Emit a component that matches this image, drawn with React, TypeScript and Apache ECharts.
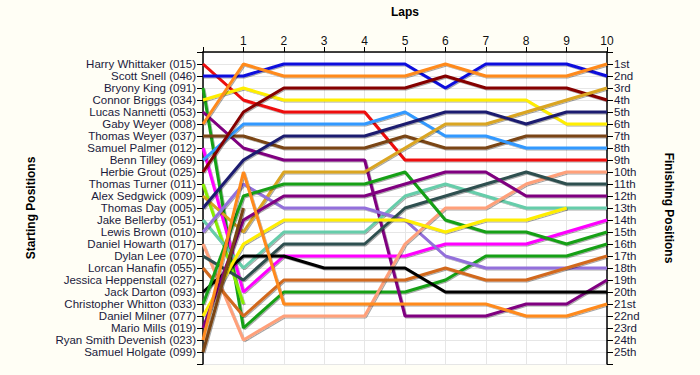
import React, { useEffect, useRef } from "react";
import * as echarts from "echarts";

const laps = [0, 1, 2, 3, 4, 5, 6, 7, 8, 9, 10];

const riders = [
  "Harry Whittaker (015)",
  "Scott Snell (046)",
  "Bryony King (091)",
  "Connor Briggs (034)",
  "Lucas Nannetti (053)",
  "Gaby Weyer (008)",
  "Thomas Weyer (037)",
  "Samuel Palmer (012)",
  "Benn Tilley (069)",
  "Herbie Grout (025)",
  "Thomas Turner (011)",
  "Alex Sedgwick (009)",
  "Thomas Day (005)",
  "Jake Bellerby (051)",
  "Lewis Brown (010)",
  "Daniel Howarth (017)",
  "Dylan Lee (070)",
  "Lorcan Hanafin (055)",
  "Jessica Heppenstall (027)",
  "Jack Darton (093)",
  "Christopher Whitton (033)",
  "Daniel Milner (077)",
  "Mario Mills (019)",
  "Ryan Smith Devenish (023)",
  "Samuel Holgate (099)",
];

const finishLabels = [
  "1st", "2nd", "3rd", "4th", "5th", "6th", "7th", "8th", "9th", "10th",
  "11th", "12th", "13th", "14th", "15th", "16th", "17th", "18th", "19th", "20th",
  "21st", "22nd", "23rd", "24th", "25th",
];

const riderColors = [
  "#ee1111", "#1111dd", "#17a017", "#ffee00", "#800080",
  "#ff8a1c", "#7a4512", "#ff00ff", "#3399ff", "#850000",
  "#88ee00", "#daa520", "#1e1e70", "#66cdaa", "#9370db",
  "#ffa07a", "#2f4f4f", "#d2691e", "#cccccc", "#000000",
  "#17a017", "#ffee00", "#800080", "#ff8a1c", "#7a4512",
];

// Position of each rider after each lap (index = lap), in starting order
const harryWhittaker = [1, 4, 5, 5, 5, 9, 9, 9, 9, 9, 9];
const scottSnell = [2, 2, 1, 1, 1, 1, 3, 1, 1, 1, 2];
const bryonyKing = [3, 23, 20, 20, 20, 20, 19, 17, 17, 17, 16];
const connorBriggs = [4, 3, 4, 4, 4, 4, 4, 4, 4, 6, 6];
const lucasNannetti = [5, 8, 9, 9, 9, 22, 22, 22, 21, 21, 19];
const gabyWeyer = [6, 1, 2, 2, 2, 2, 1, 2, 2, 2, 1];
const thomasWeyer = [7, 7, 8, 8, 8, 7, 8, 8, 7, 7, 7];
const samuelPalmer = [8, 20, 17, 17, 17, 17, 16, 16, 16, 15, 14];
const bennTilley = [9, 6, 6, 6, 6, 5, 7, 7, 8, 8, 8];
const herbieGrout = [10, 5, 3, 3, 3, 3, 2, 3, 3, 3, 4];
const thomasTurner = [11, 21];
const alexSedgwick = [12, 15, 10, 10, 10, 8, 6, 6, 5, 4, 3];
const thomasDay = [13, 9, 7, 7, 7, 6, 5, 5, 6, 5, 5];
const jakeBellerby = [14, 18, 15, 15, 15, 12, 11, 12, 13, 13, 13];
const lewisBrown = [15, 11, 13, 13, 13, 14, 17, 18, 18, 18, 18];
const danielHowarth = [16, 24, 22, 22, 22, 16, 13, 13, 11, 10, 10];
const dylanLee = [17, 19, 16, 16, 16, 13, 12, 11, 10, 11, 11];
const lorcanHanafin = [18, 22, 19, 19, 19, 19, 18, 19, 19, 18, 17];
const jessicaHeppenstall: number[] = [];
const jackDarton = [20, 17, 17, 18, 18, 18, 20, 20, 20, 20, 20];
const christopherWhitton = [21, 12, 11, 11, 11, 10, 14, 15, 15, 16, 15];
const danielMilner = [22, 16, 14, 14, 14, 14, 15, 14, 14, 13];
const marioMills = [23, 14, 12, 12, 12, 11, 10, 10, 12, 12, 12];
const ryanSmithDevenish = [24, 10, 21, 21, 21, 21, 21, 21, 22, 22, 21];
const samuelHolgate = [25, 13];

const positions = [
  harryWhittaker, scottSnell, bryonyKing, connorBriggs, lucasNannetti,
  gabyWeyer, thomasWeyer, samuelPalmer, bennTilley, herbieGrout,
  thomasTurner, alexSedgwick, thomasDay, jakeBellerby, lewisBrown,
  danielHowarth, dylanLee, lorcanHanafin, jessicaHeppenstall, jackDarton,
  christopherWhitton, danielMilner, marioMills, ryanSmithDevenish, samuelHolgate,
];

const FONT = "'Liberation Sans', Arial, sans-serif";
const TEXT = "#1a1a3c";

export default function App() {
  const ref = useRef<HTMLDivElement>(null);

  useEffect(() => {
    const chart = echarts.init(ref.current!, null, { renderer: "svg" });

    const series = riders.map((name, i) => ({
      name,
      type: "line",
      yAxisIndex: 0,
      data: positions[i].map((p, k) => [laps[k], p]),
      symbol: "none",
      color: riderColors[i],
      lineStyle: {
        width: 3,
        color: riderColors[i],
        shadowColor: "rgba(0,0,0,0.35)",
        shadowBlur: 1,
        shadowOffsetX: 1,
        shadowOffsetY: 1,
      },
      emphasis: { disabled: true },
    }));

    const yCommon = {
      type: "value",
      min: 0,
      max: 26,
      interval: 1,
      inverse: true,
      nameLocation: "middle",
      nameTextStyle: { fontWeight: "bold", fontSize: 12, color: "#000", fontFamily: FONT },
      axisLine: { show: true, lineStyle: { color: "#000", width: 1.5 } },
      axisTick: { show: true, length: 6, lineStyle: { color: "#000", width: 1 } },
    };

    chart.setOption({
      animation: false,
      backgroundColor: "#fffef5",
      textStyle: { fontFamily: FONT },
      grid: {
        left: 203,
        right: 93,
        top: 52,
        bottom: 11,
        show: true,
        backgroundColor: "#ffffff",
        borderWidth: 0,
      },
      xAxis: {
        type: "value",
        position: "top",
        min: 0,
        max: 10,
        interval: 1,
        name: "Laps",
        nameLocation: "middle",
        nameGap: 34,
        nameTextStyle: { fontWeight: "bold", fontSize: 12, color: "#000", fontFamily: FONT },
        axisLine: { show: true, lineStyle: { color: "#000", width: 1.5 } },
        axisTick: { show: true, length: 5, lineStyle: { color: "#000" } },
        axisLabel: {
          color: "#111",
          fontSize: 12,
          margin: 5,
          fontFamily: FONT,
          formatter: (v: number) => (v === 0 ? "" : String(v)),
        },
        splitLine: { show: true, lineStyle: { color: "#e6e6e6", width: 1 } },
      },
      yAxis: [
        {
          ...yCommon,
          position: "left",
          name: "Starting Positions",
          nameGap: 166,
          nameRotate: 90,
          axisLabel: {
            color: TEXT,
            fontSize: 11.5,
            margin: 7,
            fontFamily: FONT,
            formatter: (v: number) => (v >= 1 && v <= riders.length ? riders[v - 1] : ""),
          },
          splitLine: { show: true, lineStyle: { color: "#e6e6e6", width: 1 } },
        },
        {
          ...yCommon,
          position: "right",
          name: "Finishing Positions",
          nameGap: 56,
          nameRotate: -90,
          axisLabel: {
            color: TEXT,
            fontSize: 11.5,
            margin: 7,
            fontFamily: FONT,
            formatter: (v: number) => (v >= 1 && v <= finishLabels.length ? finishLabels[v - 1] : ""),
          },
          splitLine: { show: false },
        },
      ],
      series,
    });

    return () => chart.dispose();
  }, []);

  return (
    <div
      ref={ref}
      style={{ position: "fixed", left: 0, top: 0, width: 700, height: 375 }}
    />
  );
}
